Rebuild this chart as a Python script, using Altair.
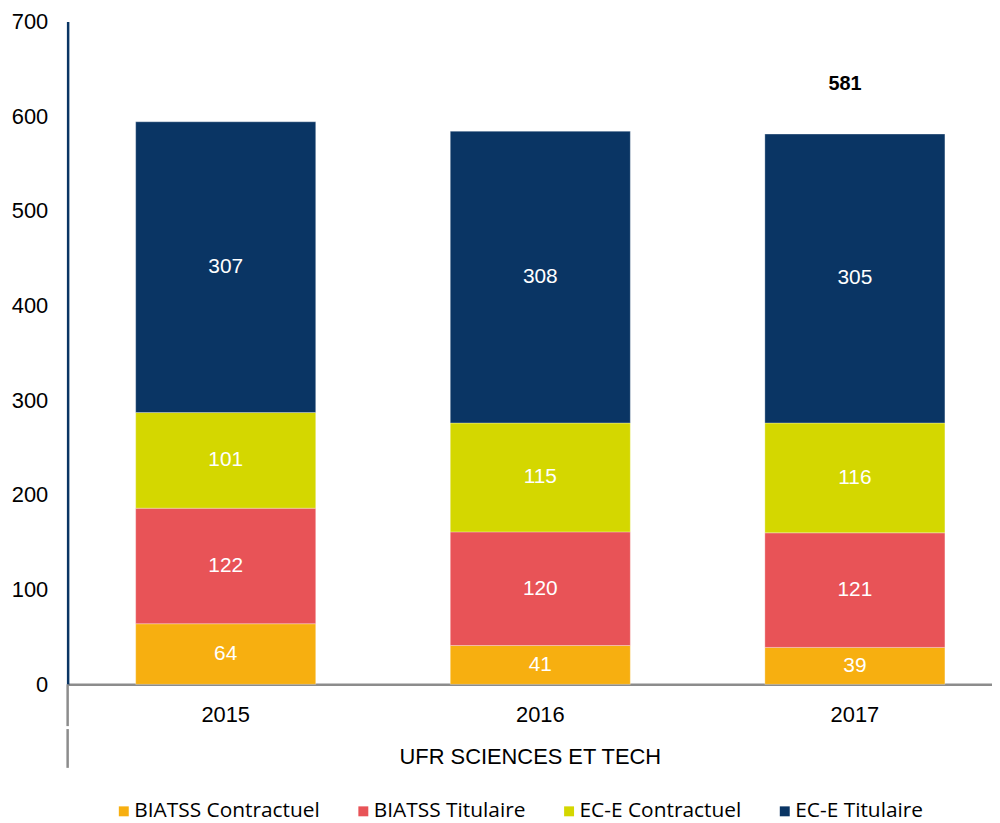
import altair as alt
import pandas as pd

years = ["2015", "2016", "2017"]
series = ["BIATSS Contractuel", "BIATSS Titulaire", "EC-E Contractuel", "EC-E Titulaire"]
colors = ["#F7AF10", "#E85357", "#D4D700", "#0A3564"]
biatss_contractuel = [64, 41, 39]
biatss_titulaire = [122, 120, 121]
ece_contractuel = [101, 115, 116]
ece_titulaire = [307, 308, 305]
group_title = "UFR SCIENCES ET TECH"

rows = []
for i, y in enumerate(years):
    for k, (s, vals) in enumerate(zip(series, [biatss_contractuel, biatss_titulaire, ece_contractuel, ece_titulaire])):
        rows.append({"year": y, "series": s, "value": vals[i], "idx": k})
df = pd.DataFrame(rows)

W, H = 930, 667
AXFONT = "Liberation Sans"

x = alt.X("year:N", sort=years,
          scale=alt.Scale(paddingInner=0.4277, paddingOuter=0.183, align=0.591),
          axis=alt.Axis(title=group_title, labelAngle=0, labelFont=AXFONT, labelFontSize=22,
                        labelColor="black", labelPadding=20, ticks=False, grid=False,
                        domainColor="#8C8C8C", domainWidth=2.5,
                        titleFont=AXFONT, titleFontSize=22, titleFontWeight="normal",
                        titleColor="black", titlePadding=22))
yscale = alt.Scale(domain=[0, 700], nice=False)

base = alt.Chart(df)

bars = base.mark_bar(stroke="white", strokeWidth=0.5, strokeOpacity=0.6).encode(
    x=x,
    y=alt.Y("value:Q", stack="zero", scale=yscale,
            axis=alt.Axis(title=None, values=[0, 100, 200, 300, 400, 500, 600, 700],
                          grid=False, ticks=False, labelFont=AXFONT, labelFontSize=22,
                          labelColor="black", labelPadding=20,
                          domainColor="#0A3564", domainWidth=2.5)),
    color=alt.Color("series:N", sort=series,
                    scale=alt.Scale(domain=series, range=colors),
                    legend=alt.Legend(title=None, orient="none", direction="horizontal",
                                      legendX=46, legendY=784, symbolType="square",
                                      symbolSize=100, symbolStrokeWidth=0,
                                      labelFont="Open Sans", labelFontSize=21,
                                      labelColor="black", columnPadding=33,
                                      labelOffset=0, symbolOpacity=1, labelLimit=400)),
    order=alt.Order("idx:Q", sort="ascending"),
)

labels = base.transform_window(
    cum="sum(value)", groupby=["year"], sort=[alt.SortField("idx")],
    frame=[None, 0]
).transform_calculate(mid="datum.cum - datum.value / 2").mark_text(
    color="white", font=AXFONT, fontSize=21, baseline="middle"
).encode(
    x=alt.X("year:N", sort=years),
    y=alt.Y("mid:Q", scale=yscale),
    text=alt.Text("value:Q"),
)

total = base.transform_filter(alt.datum.year == "2017").transform_aggregate(
    total="sum(value)", groupby=["year"]
).mark_text(color="black", font=AXFONT, fontSize=20, fontWeight="bold",
            baseline="middle", dy=-50, dx=-10).encode(
    x=alt.X("year:N", sort=years),
    y=alt.Y("total:Q", scale=yscale),
    text=alt.Text("total:Q"),
)

deco = alt.Chart(pd.DataFrame({"a": [0]}))
rule1 = deco.mark_rule(color="#8C8C8C", strokeWidth=2.5).encode(
    x=alt.value(0), y=alt.value(H), y2=alt.value(H + 42))
rule2 = deco.mark_rule(color="#8C8C8C", strokeWidth=2.5).encode(
    x=alt.value(0), y=alt.value(H + 45), y2=alt.value(H + 84))

chart = alt.layer(bars, labels, total, rule1, rule2).properties(
    width=W, height=H,
    background="white",
    autosize=alt.AutoSizeParams(type="none"),
    padding={"left": 60, "top": 11, "right": 0, "bottom": 136},
).configure_view(strokeWidth=0, stroke="transparent"
).configure_axis(grid=False)

chart.save("out.html", embed_options={"renderer": "svg", "actions": False})
